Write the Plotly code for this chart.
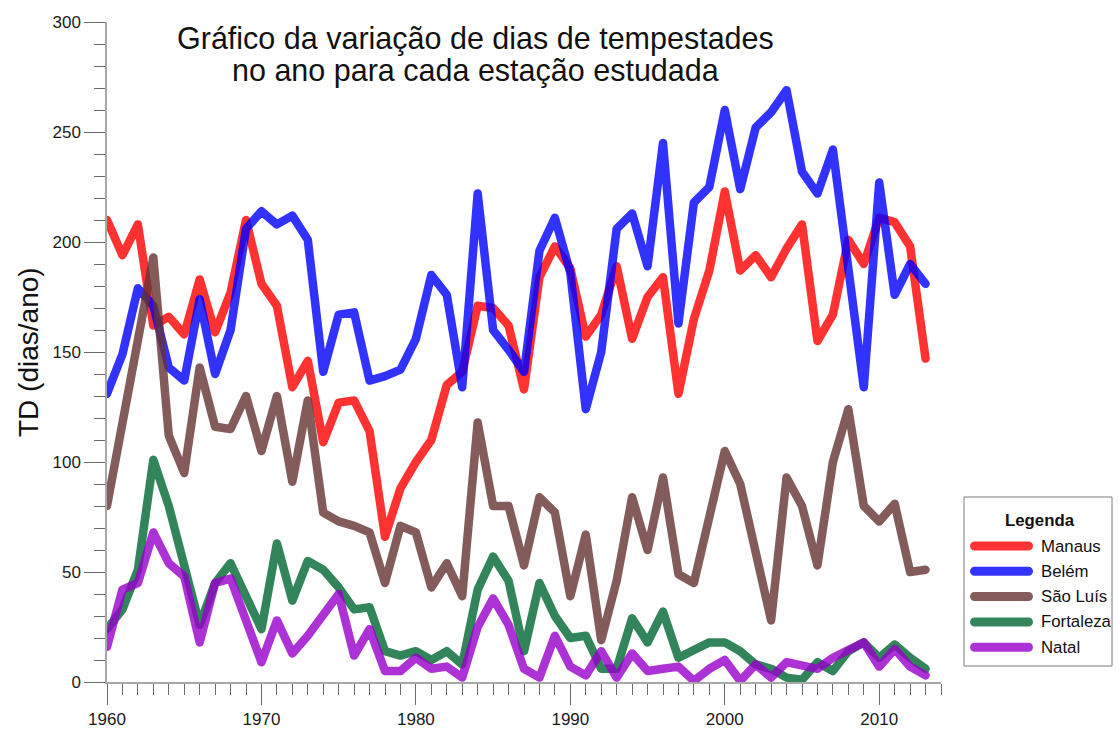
import plotly.graph_objects as go

# Annual thunderstorm days (TD) per station, 1960-2013
years = list(range(1960, 2014))

manaus = [210, 194, 208, 162, 166, 158, 183, 159, 177, 210,
          181, 171, 134, 146, 109, 127, 128, 114, 66, 88,
          100, 110, 135, 141, 171, 170, 162, 133, 184, 198,
          188, 157, 167, 189, 156, 175, 184, 131, 165, 187,
          223, 187, 194, 184, 197, 208, 155, 167, 201, 190,
          211, 209, 198, 147]

belem = [131, 149, 179, 171, 143, 137, 174, 140, 160, 206,
         214, 208, 212, 201, 141, 167, 168, 137, 139, 142,
         156, 185, 176, 134, 222, 160, 151, 141, 196, 211,
         186, 124, 150, 206, 213, 189, 245, 163, 218, 225,
         260, 224, 252, 259, 269, 232, 222, 242, 188, 134,
         227, 176, 190, 181]

sao_luis = [80, 117, 154, 193, 112, 95, 143, 116, 115, 130,
            105, 130, 91, 128, 77, 73, 71, 68, 45, 71,
            68, 43, 54, 39, 118, 80, 80, 53, 84, 77,
            39, 67, 19, 46, 84, 60, 93, 49, 45, 76,
            105, 90, 58, 28, 93, 80, 53, 100, 124, 80,
            73, 81, 50, 51]

fortaleza = [24, 33, 51, 101, 80, 52, 26, 45, 54, 39,
             24, 63, 37, 55, 51, 43, 33, 34, 14, 12,
             14, 10, 14, 8, 42, 57, 46, 14, 45, 30,
             20, 21, 6, 6, 29, 18, 32, 11, 14, 18,
             18, 14, 8, 6, 2, 1, 9, 5, 14, 18,
             11, 17, 11, 6]

natal = [16, 42, 45, 68, 54, 48, 18, 45, 47, 28,
         9, 28, 13, 21, 31, 40, 12, 24, 5, 5,
         11, 6, 7, 2, 25, 38, 26, 6, 2, 21,
         7, 3, 14, 2, 13, 5, 6, 7, 0.5, 6,
         10, 0.5, 8, 2, 9, 7, 6, 11, 15, 18,
         7, 15, 7, 3]

stations = ["Manaus", "Belém", "São Luís", "Fortaleza", "Natal"]
series = [manaus, belem, sao_luis, fortaleza, natal]
colors = ["rgb(255,0,0)", "rgb(0,0,255)", "rgb(102,51,51)",
          "rgb(0,102,51)", "rgb(153,0,204)"]

x_ticks = list(range(1960, 2011, 10))
y_ticks = list(range(0, 301, 50))

FONT = "Liberation Sans, Arial, sans-serif"

fig = go.Figure()
for name, vals, col in zip(stations, series, colors):
    fig.add_trace(go.Scatter(
        x=years, y=vals, name=name, mode="lines",
        line=dict(color=col, width=8.5),
        opacity=0.8, showlegend=False,
    ))

# plot area in pixels: x 107..941, y 22..682
L, R, T, B = 107, 178, 22, 51
W, H = 1119, 733
pw, ph = W - L - R, H - T - B


def px(xp):
    return (xp - L) / pw


def py(yp):
    return (H - B - yp) / ph


axis_common = dict(
    showgrid=False, zeroline=False, showline=True, automargin=False,
    linecolor="#a8a8a8", linewidth=1.5,
    ticks="outside", ticklen=21, tickwidth=1.2, tickcolor="#6a6a6a",
    tickfont=dict(family=FONT, size=17, color="#1a1a1a"),
)

fig.update_xaxes(
    range=[1960, 2014], tickvals=x_ticks,
    minor=dict(dtick=1, tick0=1960, ticks="outside", ticklen=11,
               tickwidth=1.2, tickcolor="#6a6a6a", showgrid=False),
    **axis_common,
)
fig.update_yaxes(
    range=[0, 300], tickvals=y_ticks,
    minor=dict(dtick=10, tick0=0, ticks="outside", ticklen=11,
               tickwidth=1.2, tickcolor="#6a6a6a", showgrid=False),
    **axis_common,
)

title_lines = ["Gráfico da variação de dias de tempestades",
               "no ano para cada estação estudada"]
annotations = []
for line, yp in zip(title_lines, [38, 71]):
    annotations.append(dict(text=line, x=px(475), y=py(yp), xref="paper", yref="paper",
                            xanchor="center", yanchor="middle", showarrow=False,
                            font=dict(family=FONT, size=30.5, color="#111")))
annotations.append(dict(text="TD (dias/ano)", x=px(28), y=0.5, xref="paper", yref="paper",
                        xanchor="center", yanchor="middle", textangle=-90, showarrow=False,
                        font=dict(family=FONT, size=28, color="#111")))

# hand-built legend box with rounded line swatches
box_l, box_r, box_t, box_b = 964, 1112, 497, 666
shapes = [dict(type="rect", xref="paper", yref="paper",
               x0=px(box_l), x1=px(box_r), y0=py(box_b), y1=py(box_t),
               line=dict(color="#7a7a7a", width=1), fillcolor="white", layer="below")]
annotations.append(dict(text="<b>Legenda</b>", x=px(1040), y=py(520),
                        xref="paper", yref="paper", xanchor="center", yanchor="middle",
                        showarrow=False, font=dict(family=FONT, size=16.8, color="#111")))

swatch = ("M4.5,-4.5 L58.5,-4.5 C61,-4.5 63,-2.5 63,0 C63,2.5 61,4.5 58.5,4.5 "
          "L4.5,4.5 C2,4.5 0,2.5 0,0 C0,-2.5 2,-4.5 4.5,-4.5 Z")
row0, row_step = 546, 25.3
for i, (name, col) in enumerate(zip(stations, colors)):
    yc = row0 + i * row_step
    shapes.append(dict(type="path", xref="paper", yref="paper",
                       xsizemode="pixel", ysizemode="pixel",
                       xanchor=px(970), yanchor=py(yc), path=swatch,
                       fillcolor=col, opacity=0.8, line=dict(width=0)))
    annotations.append(dict(text=name, x=px(1039), y=py(yc), xref="paper", yref="paper",
                            xanchor="left", yanchor="middle", showarrow=False,
                            font=dict(family=FONT, size=16.8, color="#111")))

fig.update_layout(
    width=W, height=H,
    margin=dict(l=L, r=R, t=T, b=B, autoexpand=False),
    paper_bgcolor="white", plot_bgcolor="white",
    showlegend=False,
    annotations=annotations, shapes=shapes,
    font=dict(family=FONT),
)

# rounded joins and caps on the series lines
round_css = """
var st = document.createElement('style');
st.textContent = '.js-line { stroke-linejoin: round !important; stroke-linecap: round !important; }';
document.head.appendChild(st);
"""
fig.write_html("out.html", post_script=round_css)
